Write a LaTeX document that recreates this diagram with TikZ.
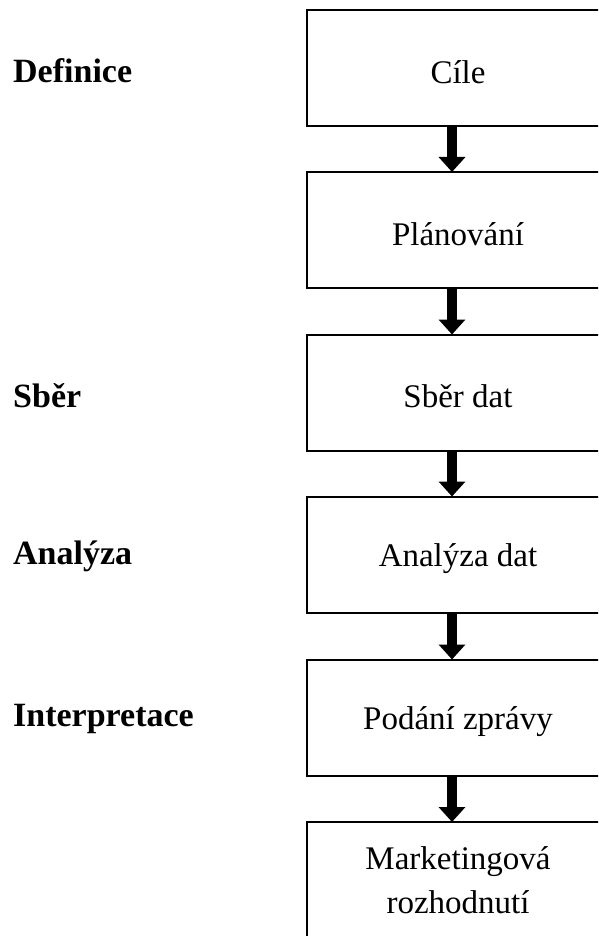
\documentclass[tikz,border=0pt]{standalone}
\usepackage{fontspec}
\setmainfont{Liberation Serif}
\usetikzlibrary{arrows.meta}
\newcommand{\lowtxt}[1]{\raisebox{-4pt}[\height][\depth]{#1}}
\begin{document}
\begin{tikzpicture}[x=1pt,y=1pt,
  stage/.style={draw=black, line width=2pt, minimum width=302pt, minimum height=116pt,
    inner sep=0pt, outer sep=0pt, align=center, font=\fontsize{33}{44}\selectfont},
  phase/.style={anchor=west, inner sep=0pt, font=\fontsize{34}{40}\selectfont\bfseries},
  flow/.style={line width=10pt, -{Triangle[length=15pt,width=26pt]}}
]
\useasboundingbox (0,0) rectangle (598,-936);
\clip (0,0) rectangle (598,-936);
\fill[white] (0,0) rectangle (598,-936);
\node[stage] (s1) at (458,-68) {\lowtxt{Cíle}};
\node[stage] (s2) at (458,-230) {\lowtxt{Plánování}};
\node[stage] (s3) at (458,-392.5) {\lowtxt{Sběr dat}};
\node[stage] (s4) at (458,-554.5) {\lowtxt{Analýza dat}};
\node[stage] (s5) at (458,-717.5) {\lowtxt{Podání zprávy}};
\node[stage] (s6) at (458,-880) {Marketingová\\rozhodnutí};
\node[phase] (p1) at (13,-71) {Definice};
\node[phase] (p2) at (13,-396) {Sběr};
\node[phase] (p3) at (13,-556) {Analýza};
\node[phase] (p4) at (13,-719) {Interpretace};
\draw[flow] ([xshift=-6pt]s1.south) -- ([xshift=-6pt]s2.north);
\draw[flow] ([xshift=-6pt]s2.south) -- ([xshift=-6pt]s3.north);
\draw[flow] ([xshift=-6pt]s3.south) -- ([xshift=-6pt]s4.north);
\draw[flow] ([xshift=-6pt]s4.south) -- ([xshift=-6pt]s5.north);
\draw[flow] ([xshift=-6pt]s5.south) -- ([xshift=-6pt]s6.north);
\end{tikzpicture}
\end{document}
